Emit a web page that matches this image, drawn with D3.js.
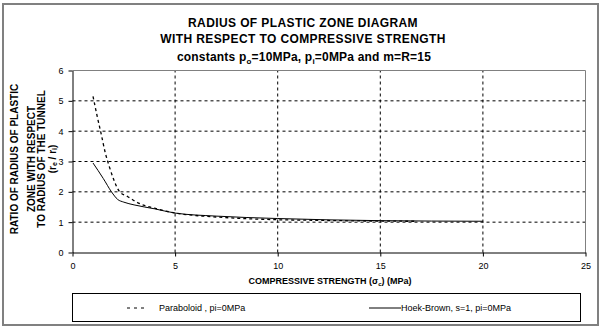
<!DOCTYPE html>
<html><head><meta charset="utf-8">
<script src="https://cdn.jsdelivr.net/npm/d3@7"></script>
<style>body{margin:0;background:#fff}svg{display:block;font-family:"Liberation Sans",Arial,sans-serif}</style>
</head><body>
<script>
const paraX = [1, 1.2, 1.4, 1.6, 1.8, 2, 2.3, 2.7, 3.1, 3.5, 4, 5, 6, 7, 8, 10, 12, 14, 16.7];
const paraY = [5.15, 4.5, 3.9, 3.28, 2.82, 2.42, 2.0, 1.84, 1.67, 1.55, 1.46, 1.3, 1.22, 1.17, 1.13, 1.08, 1.06, 1.04, 1.03];
const hbX = [1, 1.5, 1.9, 2.2, 2.5, 3, 4, 5, 7, 10, 15, 20];
const hbY = [2.95, 2.44, 2.0, 1.75, 1.66, 1.57, 1.44, 1.3, 1.2, 1.12, 1.05, 1.03];
const xTicks = [0, 5, 10, 15, 20, 25];
const yTicks = [0, 1, 2, 3, 4, 5, 6];
const titleLines = ["RADIUS OF PLASTIC ZONE DIAGRAM", "WITH RESPECT TO COMPRESSIVE STRENGTH"];
const yTitleLines = ["RATIO OF RADIUS OF PLASTIC", "ZONE WITH RESPECT", "TO RADIUS OF THE TUNNEL"];
const legendLabels = ["Paraboloid , pi=0MPa", "Hoek-Brown, s=1, pi=0MPa"];

const W = 602, H = 327;
const svg = d3.select("body").append("svg").attr("width", W).attr("height", H);
svg.append("rect").attr("x", 3).attr("y", 4).attr("width", 595).attr("height", 321)
  .attr("fill", "#fff").attr("stroke", "#808080").attr("stroke-width", 2);

const x = d3.scaleLinear().domain([0, 25]).range([72.5, 585.5]);
const y = d3.scaleLinear().domain([0, 6]).range([252.5, 70.5]);

titleLines.forEach((t, i) => {
  svg.append("text").attr("x", 303).attr("y", 27 + i * 16).attr("text-anchor", "middle")
    .attr("font-size", 12).attr("letter-spacing", 0.4).attr("font-weight", "bold").attr("fill", "#000").text(t);
});
const sub = svg.append("text").attr("x", 304).attr("y", 61).attr("text-anchor", "middle")
  .attr("font-size", 12).attr("letter-spacing", 0.2).attr("font-weight", "bold");
sub.append("tspan").text("constants p");
sub.append("tspan").attr("font-size", 8).attr("dy", 3).text("o");
sub.append("tspan").attr("dy", -3).text("=10MPa, p");
sub.append("tspan").attr("font-size", 8).attr("dy", 3).text("i");
sub.append("tspan").attr("dy", -3).text("=0MPa and m=R=15");

const g = svg.append("g");
g.selectAll(".gy").data(yTicks.filter(d => d > 0 && d < 6)).join("line")
  .attr("x1", x(0)).attr("x2", x(25)).attr("y1", d => y(d)).attr("y2", d => y(d))
  .attr("stroke", "#000").attr("stroke-dasharray", "3,3");
g.selectAll(".gx").data(xTicks.filter(d => d > 0 && d < 25)).join("line")
  .attr("x1", d => x(d)).attr("x2", d => x(d)).attr("y1", y(0)).attr("y2", y(6))
  .attr("stroke", "#000").attr("stroke-dasharray", "3,3");
svg.append("line").attr("x1", x(0)).attr("x2", x(25)).attr("y1", y(6)).attr("y2", y(6)).attr("stroke", "#808080");
svg.append("line").attr("x1", x(25)).attr("x2", x(25)).attr("y1", y(6)).attr("y2", y(0)).attr("stroke", "#808080");

const xAxis = d3.axisBottom(x).tickValues(xTicks).tickFormat(d3.format("d")).tickSize(4).tickPadding(6).tickSizeOuter(0);
const ax = svg.append("g").attr("transform", `translate(0,${y(0)})`).call(xAxis);
const yAxis = d3.axisLeft(y).tickValues(yTicks).tickFormat(d3.format("d")).tickSize(4).tickPadding(5).tickSizeOuter(0);
const ay = svg.append("g").attr("transform", `translate(${x(0)},0)`).call(yAxis);
[ax, ay].forEach(a => {
  a.select(".domain").attr("stroke", "#000");
  a.selectAll("line").attr("stroke", "#000");
  a.selectAll("text").attr("font-size", 9).attr("font-family", "Liberation Sans, Arial, sans-serif").attr("fill", "#000");
});

const xt = svg.append("text").attr("x", 330).attr("y", 284).attr("text-anchor", "middle")
  .attr("font-size", 9).attr("font-weight", "bold");
xt.append("tspan").text("COMPRESSIVE STRENGTH (σ");
xt.append("tspan").attr("font-size", 6).attr("dy", 2).text("c");
xt.append("tspan").attr("dy", -2).text(") (MPa)");

const yx = [18, 34.5, 45];
yTitleLines.forEach((t, i) => {
  svg.append("text").attr("transform", `translate(${yx[i]},159) rotate(-90)`).attr("text-anchor", "middle")
    .attr("font-size", 10).attr("font-weight", "bold").text(t);
});
const yr = svg.append("text").attr("transform", `translate(55.5,159) rotate(-90)`).attr("text-anchor", "middle")
  .attr("font-size", 10).attr("font-weight", "bold");
yr.append("tspan").text("(r");
yr.append("tspan").attr("font-size", 7).attr("dy", 1.5).text("e");
yr.append("tspan").attr("dy", -1.5).text(" / r");
yr.append("tspan").attr("font-size", 7).attr("dy", 1.5).text("i");
yr.append("tspan").attr("dy", -1.5).text(")");

const line = d3.line().x(d => x(d[0])).y(d => y(d[1])).curve(d3.curveMonotoneX);
svg.append("path").datum(paraX.map((v, i) => [v, paraY[i]])).attr("d", line)
  .attr("fill", "none").attr("stroke", "#000").attr("stroke-width", 1.3).attr("stroke-dasharray", "3,3");
svg.append("path").datum(hbX.map((v, i) => [v, hbY[i]])).attr("d", line)
  .attr("fill", "none").attr("stroke", "#000").attr("stroke-width", 1);

svg.append("rect").attr("x", 72.5).attr("y", 293.5).attr("width", 508).attr("height", 28)
  .attr("fill", "#fff").attr("stroke", "#000");
const ly = 308;
svg.append("line").attr("x1", 127).attr("x2", 148).attr("y1", ly).attr("y2", ly)
  .attr("stroke", "#000").attr("stroke-dasharray", "3,4");
svg.append("text").attr("x", 159).attr("y", ly + 3).attr("font-size", 9).text(legendLabels[0]);
svg.append("line").attr("x1", 369).attr("x2", 401).attr("y1", ly).attr("y2", ly).attr("stroke", "#000");
svg.append("text").attr("x", 401).attr("y", ly + 3).attr("font-size", 9).text(legendLabels[1]);
</script>
</body></html>
